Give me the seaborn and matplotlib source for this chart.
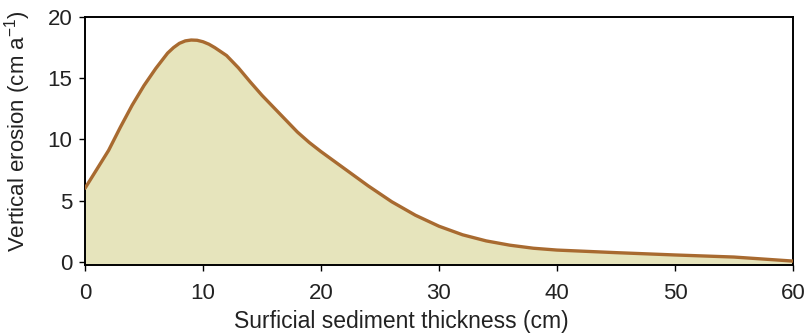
import matplotlib
matplotlib.use("Agg")
import matplotlib.pyplot as plt
import seaborn as sns
import pandas as pd

# Vertical erosion rate versus surficial sediment thickness
thickness_cm = [0, 1, 2, 3, 4, 5, 6, 7, 7.5, 8, 8.5, 9, 9.5, 10, 10.5, 11, 12, 13, 14,
                15, 16, 17, 18, 19, 20, 22, 24, 26, 28, 30, 32, 34, 36, 38, 40, 45,
                50, 55, 60]
erosion_cm_a = [6.0, 7.55, 9.1, 11.0, 12.8, 14.4, 15.8, 17.05, 17.5, 17.85, 18.05,
                18.12, 18.1, 17.98, 17.78, 17.5, 16.85, 15.85, 14.7, 13.6, 12.6, 11.6,
                10.6, 9.75, 9.0, 7.6, 6.2, 4.9, 3.8, 2.9, 2.2, 1.7, 1.35, 1.1, 0.95,
                0.74, 0.55, 0.38, 0.05]
x_ticks = [0, 10, 20, 30, 40, 50, 60]
y_ticks = [0, 5, 10, 15, 20]

df = pd.DataFrame({"thickness": thickness_cm, "erosion": erosion_cm_a})

sns.set_theme(style="ticks")
plt.rcParams["font.family"] = ["Liberation Sans", "DejaVu Sans"]
plt.rcParams["mathtext.fontset"] = "custom"
plt.rcParams["mathtext.rm"] = "Liberation Sans"
plt.rcParams["mathtext.it"] = "Liberation Sans:italic"

fig = plt.figure(figsize=(8.05, 3.34), dpi=100)
ax = fig.add_axes([0.1056, 0.2066, 0.8794, 0.7424])

ax.fill_between(df["thickness"], df["erosion"], -1, color="#e6e4bc", lw=0, zorder=1)
sns.lineplot(data=df, x="thickness", y="erosion", ax=ax, color="#a86a30",
             lw=2.4, zorder=3, solid_capstyle="round", solid_joinstyle="round")

ax.set_xlim(0, 60)
ax.set_ylim(-0.27, 20)
ax.set_xticks(x_ticks)
ax.set_yticks(y_ticks)
ax.tick_params(axis="both", labelsize=16, length=4, width=1.0, color="black",
               labelcolor="#222222")
ax.tick_params(axis="y", pad=5)
ax.tick_params(axis="x", pad=9)
for s in ax.spines.values():
    s.set_visible(True)
    s.set_linewidth(1.4)
    s.set_color("black")

ax.set_xlabel("Surficial sediment thickness (cm)", fontsize=16.5, color="#222222")
ax.set_ylabel("Vertical erosion (cm a$^{\\mathregular{-1}}$)", fontsize=16,
              color="#222222")
ax.xaxis.set_label_coords(0.447, -0.18)
ax.yaxis.set_label_coords(-0.074, 0.538)

fig.savefig("out.png", dpi=100)
